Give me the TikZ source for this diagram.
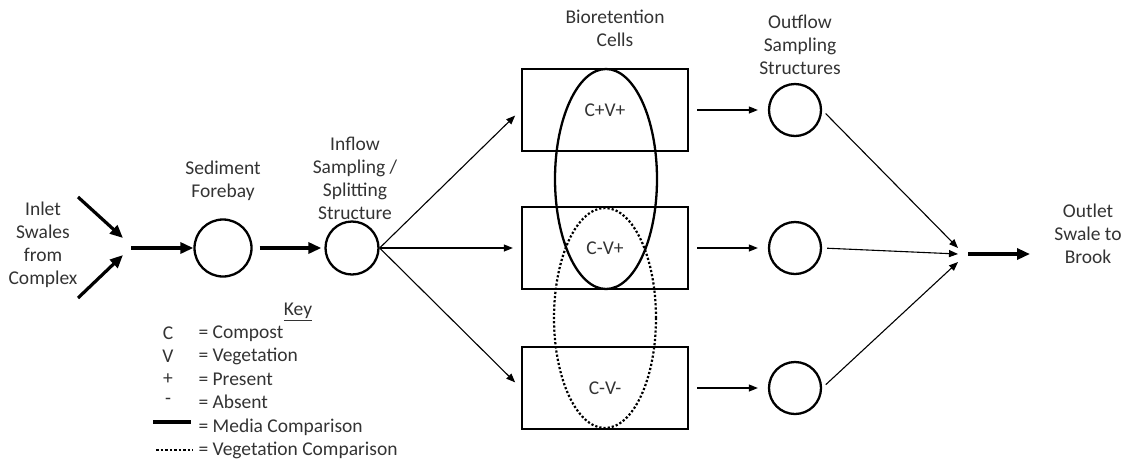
\documentclass[tikz,border=0pt]{standalone}
\usepackage{fontspec}
\setmainfont{Carlito}
\usetikzlibrary{positioning}
\usetikzlibrary{arrows.meta}
\usetikzlibrary{calc}

\begin{document}
\begin{tikzpicture}[x=1pt, y=-1pt,
    every node/.style={font=\fontsize{19.5}{23}\selectfont, text=black!80},
    circ/.style={draw=black, circle, line width=2.3pt, inner sep=0pt},
    cell/.style={draw=black, rectangle, line width=2.3pt, minimum width=166pt, minimum height=82pt},
    flow/.style={-{Triangle[length=9pt,width=7pt]}, line width=1.1pt},
    bigflow/.style={-{Triangle[length=13pt,width=11pt]}, line width=3.2pt}]
    \useasboundingbox (0,0) rectangle (1131,459);

    % inlet swales
    \node[align=center] (inlet) at (43,245) {Inlet\\Swales\\from\\Complex};
    \coordinate (ina) at (78,197);
    \coordinate (inb) at (78,298);
    \coordinate (tipa) at (123,238);
    \coordinate (tipb) at (123,255);
    \coordinate (mainin) at (131,248);
    \draw[bigflow] (ina) -- (tipa);
    \draw[bigflow] (inb) -- (tipb);

    % forebay and inflow structure
    \node[circ, minimum size=57pt] (fore) at (223,248) {};
    \node[circ, minimum size=53pt] (inflow) at (352,248) {};
    \node[align=center] (forelab) at (223,181) {Sediment\\Forebay};
    \node[align=center] (inflowlab) at (355,178) {Inflow\\Sampling /\\Splitting\\Structure};
    \draw[bigflow] (mainin) -- (fore);
    \draw[bigflow, shorten <=7pt, shorten >=3pt] (fore) -- (inflow);

    % bioretention cells and outflow structures
    \node[align=center] (biolab) at (615,28) {Bioretention\\Cells};
    \node[align=center] (outlab) at (800,45) {Outflow\\Sampling\\Structures};
    \foreach \n/\y/\t in {1/110/C+V+, 2/248/C-V+, 3/388/C-V-}
        {\node[cell] (cell\n) at (605,\y) {\t};
         \node[circ, minimum size=52pt] (out\n) at (795,\y) {};
         \draw[flow, shorten >=8pt] (inflow.east) -- (cell\n.west);
         \draw[flow, shorten <=8pt, shorten >=10pt] (cell\n.east) -- (out\n.west);}

    % comparisons
    \draw[line width=2.3pt] (606,179) ellipse [x radius=51pt, y radius=110pt];
    \draw[line width=2.2pt, dash pattern=on 2.2pt off 2pt] (605,318) ellipse [x radius=51pt, y radius=110pt];

    % outlet
    \coordinate (join1) at (958,248);
    \coordinate (join2) at (958,254);
    \coordinate (join3) at (958,262);
    \coordinate (outa) at (968,254);
    \coordinate (outb) at (1030,254);
    \foreach \n in {1,2,3}
        {\draw[flow, shorten <=5pt] (out\n.east) -- (join\n);}
    \draw[bigflow] (outa) -- (outb);
    \node[align=center] (outlet) at (1088,234) {Outlet\\Swale to\\Brook};

    % key
    \node (key) at (298,312) {\underline{Key}};
    \foreach \s/\t [count=\i] in {C/Compost, V/Vegetation, +/Present, -/Absent}
        {\node (sym\i) at (168,{311+22.7*\i}) {\s};
         \node[anchor=west] (txt\i) at (195,{311+22.7*\i}) {= \t};}
    \draw[line width=3.2pt] (153,422) -- (191,422);
    \node[anchor=west] (media) at (195,427) {= Media Comparison};
    \draw[line width=2.5pt, dash pattern=on 2.5pt off 2pt] (156,450) -- (193,450);
    \node[anchor=west] (veg) at (195,450) {= Vegetation Comparison};
\end{tikzpicture}
\end{document}
